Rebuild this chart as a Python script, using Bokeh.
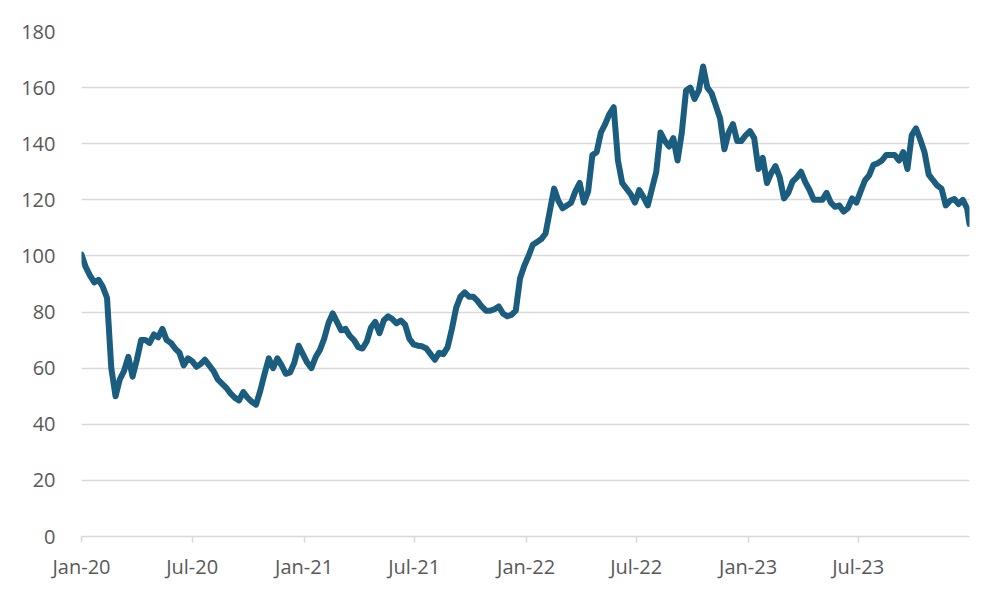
import pandas as pd
from bokeh.plotting import figure
from bokeh.models import Range1d, FixedTicker, DatetimeTickFormatter, ColumnDataSource
from bokeh.embed import file_html
from bokeh.resources import INLINE

# weekly index level (Jan 2020 - Dec 2023)
values_2020 = [100.5, 96, 93, 90.6, 91.5, 89, 85, 60, 50, 56, 59, 64, 57, 63, 70, 70, 69, 72, 71, 74,
               70, 69, 67, 65.5, 61, 63.5, 62.5, 60.5, 61.5, 63, 61, 59, 56, 54.5, 53, 51, 49.5, 48.5,
               51.5, 49.5, 48, 47, 52, 58, 63.5, 60, 63.5, 61, 58, 58.5, 62, 68, 65]
values_2021 = [62, 60, 64, 66.5, 70.5, 76, 79.5, 76.5, 73.5, 74, 71.5, 70, 67.5, 67, 69.5, 74.5, 76.5,
               72.5, 77, 78.5, 77.5, 76, 77, 75.5, 70.5, 68.5, 68, 67.8, 67, 65, 63, 65.5, 65, 67.5,
               74, 81.5, 85.5, 87, 85.5, 85.5, 84, 82, 80.5, 80.5, 81, 82, 79.5, 78.5, 79, 80.5, 92, 96.5]
values_2022 = [100, 104, 105, 106, 108, 116, 124, 119.7, 117, 118, 119, 123, 126, 119, 123, 136, 137,
               144, 147, 150.6, 153, 134, 126, 124, 122, 119, 123.5, 121, 118, 124, 130, 144, 141, 139,
               142, 134, 144, 159, 160, 156, 159, 167.5, 160, 158, 153.5, 149, 138, 144, 147, 141, 141, 143]
values_2023 = [144.5, 142, 131, 135, 126, 129.5, 132, 128, 120.5, 122.5, 126.5, 128, 130, 126.3, 123.5,
               120, 120, 120, 122.5, 119, 117.5, 118, 115.8, 117, 120.5, 119, 123, 126.9, 128.7, 132.5,
               133, 134, 136, 136, 136, 134, 137, 131, 143, 145.5, 141.5, 137, 129, 127, 125.1, 124,
               118, 119.7, 120.3, 118.5, 120, 117, 111.4]

values = values_2020 + values_2021 + values_2022 + values_2023
dates = pd.date_range("2020-01-01", periods=len(values), freq="7D")
dates = dates.where(dates <= pd.Timestamp("2023-12-31"), pd.Timestamp("2023-12-31"))

tick_dates = ["2020-01-01", "2020-07-01", "2021-01-01", "2021-07-01",
              "2022-01-01", "2022-07-01", "2023-01-01", "2023-07-01"]
y_ticks = [0, 20, 40, 60, 80, 100, 120, 140, 160, 180]

source = ColumnDataSource({'date': dates, 'value': values})

p = figure(width=992, height=592, x_axis_type="datetime", output_backend="svg",
           toolbar_location=None, tools="",
           x_range=Range1d(pd.Timestamp("2020-01-01"), pd.Timestamp("2023-12-31")),
           y_range=Range1d(0, 180))
p.min_border_left = 81
p.min_border_right = 23
p.min_border_top = 31
p.min_border_bottom = 56
p.outline_line_color = None
p.background_fill_color = "white"
p.border_fill_color = "white"

p.line(x='date', y='value', source=source, line_color="#1b5d7e", line_width=6,
       line_join="round", line_cap="round")

grey = "#d9d9d9"
text_col = "#595959"
font = "Open Sans"

p.xgrid.grid_line_color = None
p.ygrid.grid_line_color = grey
p.ygrid.grid_line_width = 1.3
p.ygrid.ticker = FixedTicker(ticks=y_ticks)

p.yaxis.ticker = FixedTicker(ticks=y_ticks)
p.yaxis.axis_line_color = None
p.yaxis.major_tick_line_color = None
p.yaxis.minor_tick_line_color = None
p.yaxis.major_label_standoff = 20
p.yaxis.major_label_text_font = font
p.yaxis.major_label_text_font_size = "20px"
p.yaxis.major_label_text_color = text_col

p.xaxis.ticker = FixedTicker(ticks=[pd.Timestamp(d).value / 1e6 for d in tick_dates])
p.xaxis.formatter = DatetimeTickFormatter(days="%b-%y", months="%b-%y", years="%b-%y")
p.xaxis.axis_line_color = grey
p.xaxis.axis_line_width = 1.5
p.xaxis.major_tick_line_color = grey
p.xaxis.major_tick_line_width = 1.5
p.xaxis.major_tick_in = 0
p.xaxis.major_tick_out = 6
p.xaxis.minor_tick_line_color = None
p.xaxis.major_label_standoff = 10
p.xaxis.major_label_text_font = font
p.xaxis.major_label_text_font_size = "20px"
p.xaxis.major_label_text_color = text_col

open("out.html", "w").write(file_html(p, INLINE))
